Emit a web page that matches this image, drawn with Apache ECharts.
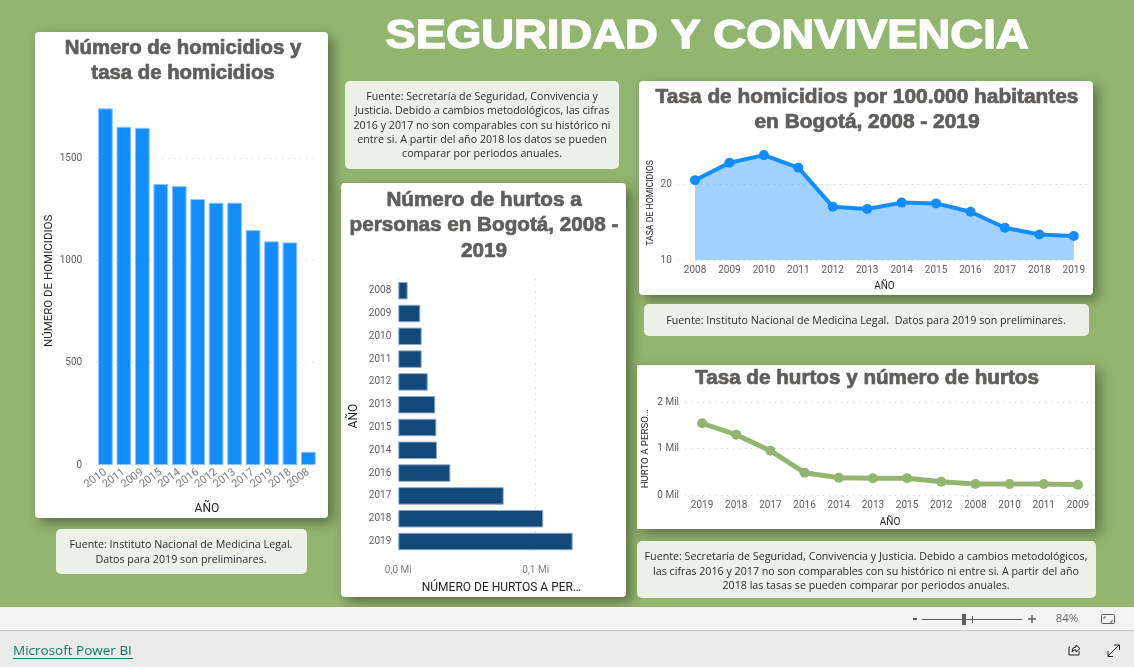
<!DOCTYPE html>
<html><head><meta charset="utf-8">
<style>html,body{margin:0;padding:0;background:#92B56F;overflow:hidden}#c{width:1134px;height:667px}</style>
<script src="https://cdn.jsdelivr.net/npm/echarts@6/dist/echarts.min.js"></script>
</head><body><div id="c"></div>
<script>
const homYears = ['2010','2011','2009','2015','2014','2016','2012','2013','2017','2019','2018','2008'];
const homValues = [1743,1653,1648,1373,1363,1300,1282,1282,1148,1093,1088,65];
const hurtoYears = ['2008','2009','2010','2011','2012','2013','2015','2014','2016','2017','2018','2019'];
const hurtoValues = [0.0068,0.016,0.017,0.017,0.0214,0.0269,0.0277,0.0282,0.0379,0.0767,0.1055,0.1269];
const tasaHomYears = ['2008','2009','2010','2011','2012','2013','2014','2015','2016','2017','2018','2019'];
const tasaHomValues = [20.5,22.8,23.8,22.15,17.0,16.7,17.55,17.45,16.35,14.25,13.35,13.15];
const tasaHurtoYears = ['2019','2018','2017','2016','2014','2013','2015','2012','2008','2010','2011','2009'];
const tasaHurtoValues = [1.548,1.30,0.956,0.48,0.374,0.36,0.36,0.287,0.237,0.237,0.237,0.222];

const BODY = 'Roboto, "Noto Sans", sans-serif';
const NOTE = '"Open Sans", "Noto Sans", sans-serif';
const HEAD = '"Liberation Sans", Arial, sans-serif';
const LABEL = '#605E5C', NAME = '#252423', GRID = '#CFCFCF';

function panel(x, y, w, h, r) {
  return {type:'rect', z:1, shape:{x, y, width:w, height:h, r},
    style:{fill:'#fff', shadowBlur:12, shadowOffsetX:5, shadowOffsetY:5, shadowColor:'rgba(0,0,0,0.38)'}};
}
function noteBox(x, y, w, h) {
  return {type:'rect', z:2, shape:{x, y, width:w, height:h, r:5}, style:{fill:'#EDF2E8'}};
}
function text(t, x, y, font, fill, lh) {
  return {type:'text', z:5, x, y, style:{text:t, font, fill, align:'center', verticalAlign:'middle', lineHeight:lh}};
}
function heading(t, x, y, size, lh, sx) {
  return {type:'text', z:5, x, y, scaleX:sx, style:{text:t, font:'bold '+size+'px '+HEAD, fill:'#605E5C', stroke:'#605E5C', lineWidth:0.7, align:'center', verticalAlign:'middle', lineHeight:lh}};
}
function note(t, x, y) { return text(t, x, y, '10.7px '+NOTE, '#2B2B2B', 14.2); }
function line(x1, y1, x2, y2, stroke, w) {
  return {type:'line', z:6, shape:{x1, y1, x2, y2}, style:{stroke, lineWidth:w||1}};
}
function plain(points, stroke) {
  return {type:'polyline', z:6, shape:{points}, style:{fill:'none', stroke, lineWidth:1}};
}
const dotted = {color:GRID, type:[1,5], width:1};
const valueCommon = {
  z:4, axisLine:{show:false}, axisTick:{show:false},
  splitLine:{show:true, showMaxLine:false, lineStyle:dotted},
};
const catCommon = {
  z:4, type:'category', axisLine:{show:false}, axisTick:{show:false}, splitLine:{show:false},
};
function lab(size, extra) { return Object.assign({color:LABEL, fontFamily:BODY, fontSize:size, showMaxLabel:false}, extra||{}); }
function nameStyle(size) { return {color:NAME, fontFamily:BODY, fontSize:size}; }
const NUDGE = [2,0,0,0];

const chart = echarts.init(document.getElementById('c'), null, {renderer:'canvas'});
chart.setOption({
  animation:false,
  backgroundColor:'#92B56F',
  graphic:{elements:[
    panel(35,32,293,486,4), panel(341,183,285,414,4), panel(639,81,454,214,4), panel(637,365,458,164,0),
    noteBox(56,529,251,45), noteBox(345,81,274,88), noteBox(644,304,445,32), noteBox(637,541,459,57),
    {type:'text', z:5, x:707, y:37, scaleX:1.107, style:{text:'SEGURIDAD Y CONVIVENCIA', font:'bold 41px '+HEAD, fill:'#FFFFFF', stroke:'#FFFFFF', lineWidth:1.4, align:'center', verticalAlign:'middle'}},
    heading('Número de homicidios y\ntasa de homicidios',183,61,19.5,25,1.044),
    heading('Número de hurtos a\npersonas en Bogotá, 2008 -\n2019',484,226,19.5,25.5,1.06),
    heading('Tasa de homicidios por 100.000 habitantes\nen Bogotá, 2008 - 2019',867,110.5,19.5,25,1.07),
    heading('Tasa de hurtos y número de hurtos',867,379,19.5,25,1.059),
    note('Fuente: Instituto Nacional de Medicina Legal.\nDatos para 2019 son preliminares.',181,552.5),
    note('Fuente: Secretaría de Seguridad, Convivencia y\nJusticia. Debido a cambios metodológicos, las cifras\n2016 y 2017 no son comparables con su histórico ni\nentre si. A partir del año 2018 los datos se pueden\ncomparar por periodos anuales.',482,125.5),
    note('Fuente: Instituto Nacional de Medicina Legal.  Datos para 2019 son preliminares.',866,320.5),
    note('Fuente: Secretaría de Seguridad, Convivencia y Justicia. Debido a cambios metodológicos,\nlas cifras 2016 y 2017 no son comparables con su histórico ni entre si. A partir del año\n2018 las tasas se pueden comparar por periodos anuales.',866,571.5),
    {type:'rect', z:3, shape:{x:0,y:607,width:1134,height:23}, style:{fill:'#F3F3F3'}},
    {type:'rect', z:3, shape:{x:0,y:630,width:1134,height:37}, style:{fill:'#EAEAEA'}},
    {type:'rect', z:3, shape:{x:0,y:630,width:1134,height:1}, style:{fill:'#C8C8C8'}},
    {type:'text', z:5, x:13, y:651, style:{text:'Microsoft Power BI', font:'13.5px '+NOTE, fill:'#117865', align:'left', verticalAlign:'middle'}},
    line(13,658.5,133,658.5,'#117865',1),
    line(913,619,917,619,'#555',2),
    line(922,619.5,1022,619.5,'#605E5C',1),
    {type:'rect', z:6, shape:{x:962,y:614,width:4,height:11}, style:{fill:'#605E5C'}},
    line(972.5,616,972.5,623,'#605E5C',1),
    line(1028,619,1036,619,'#555',1.4),
    line(1032,615,1032,623,'#555',1.4),
    text('84%',1067,619,'11.5px '+NOTE,'#666666'),
    {type:'rect', z:6, shape:{x:1101.5,y:614.5,width:13,height:9,r:1}, style:{fill:'none',stroke:'#605E5C',lineWidth:1}},
    plain([[1104,619],[1104,617],[1106,617]],'#605E5C'),
    plain([[1110,622],[1112,622],[1112,620]],'#605E5C'),
    plain([[1070,647],[1069,647],[1069,655],[1079,655],[1079,651]],'#222'),
    plain([[1072,652],[1073,648],[1076,647],[1076,645],[1080,648.5],[1076,652],[1076,650],[1074,650],[1072,652]],'#222'),
    line(1108,656,1119,645,'#222',1),
    plain([[1114,645],[1119.5,645],[1119.5,650]],'#222'),
    plain([[1108,651],[1108,656.5],[1113,656.5]],'#222'),
  ]},
  grid:[
    {left:96.2, top:96.7, width:221.4, height:368.3},
    {left:398.3, top:279.3, width:206.1, height:273.6},
    {left:677.8, top:146, width:413.2, height:114},
    {left:685, top:402.3, width:410, height:92.7},
  ],
  xAxis:[
    Object.assign({}, catCommon, {gridIndex:0, data:homYears, name:'AÑO', nameLocation:'middle', nameGap:38, nameTextStyle:nameStyle(12),
      axisLabel:lab(11,{interval:0, rotate:37, margin:6, showMaxLabel:true, color:'#7F7F7F'})}),
    Object.assign({}, valueCommon, {gridIndex:1, type:'value', min:0, max:0.15, interval:0.1, name:'NÚMERO DE HURTOS A PER…', nameLocation:'middle', nameGap:29, nameTextStyle:nameStyle(12),
      axisLabel:lab(10,{margin:13, color:'#7F7F7F', formatter:v=>v.toFixed(1).replace('.',',')+' Mi'})}),
    Object.assign({}, catCommon, {gridIndex:2, data:tasaHomYears, name:'AÑO', nameLocation:'middle', nameGap:21, nameTextStyle:nameStyle(10),
      axisLabel:lab(10,{interval:0, margin:5, showMaxLabel:true})}),
    Object.assign({}, catCommon, {gridIndex:3, data:tasaHurtoYears, name:'AÑO', nameLocation:'middle', nameGap:22, nameTextStyle:nameStyle(10),
      axisLabel:lab(10,{interval:0, margin:5, showMaxLabel:true})}),
  ],
  yAxis:[
    Object.assign({}, valueCommon, {gridIndex:0, type:'value', min:0, max:1800, interval:500, name:'NÚMERO DE HOMICIDIOS', nameLocation:'middle', nameGap:41, nameTextStyle:nameStyle(11.5),
      axisLabel:lab(10,{margin:14, padding:NUDGE, formatter:v=>String(v)})}),
    Object.assign({}, catCommon, {gridIndex:1, data:hurtoYears, inverse:true, name:'AÑO', nameLocation:'middle', nameGap:38, nameTextStyle:nameStyle(12),
      axisLabel:lab(10,{interval:0, margin:7, padding:NUDGE, showMaxLabel:true})}),
    Object.assign({}, valueCommon, {gridIndex:2, type:'value', min:10, max:25, interval:10, name:'TASA DE HOMICIDIOS', nameLocation:'middle', nameGap:22, nameTextStyle:nameStyle(8.7),
      axisLabel:lab(10,{margin:6, padding:NUDGE})}),
    Object.assign({}, valueCommon, {gridIndex:3, type:'value', min:0, max:2, interval:1, name:'HURTO A PERSO...', nameLocation:'middle', nameGap:34, nameTextStyle:nameStyle(9.7),
      splitLine:{show:true, lineStyle:dotted},
      axisLabel:lab(10,{margin:6, padding:NUDGE, showMaxLabel:true, formatter:v=>v+' Mil'})}),
  ],
  series:[
    {type:'bar', xAxisIndex:0, yAxisIndex:0, data:homValues, barWidth:14.7, z:5,
      itemStyle:{color:'#118DFF', borderColor:'#8CC6FF', borderWidth:1}},
    {type:'bar', xAxisIndex:1, yAxisIndex:1, data:hurtoValues, barWidth:17.5, z:5,
      itemStyle:{color:'#12497B', borderColor:'#8FA9C4', borderWidth:1}},
    {type:'line', xAxisIndex:2, yAxisIndex:2, data:tasaHomValues, symbol:'circle', symbolSize:10, z:5,
      lineStyle:{color:'#118DFF', width:4}, itemStyle:{color:'#118DFF'}, areaStyle:{color:'#118DFF', opacity:0.4}},
    {type:'line', xAxisIndex:3, yAxisIndex:3, data:tasaHurtoValues, symbol:'circle', symbolSize:10, z:5,
      lineStyle:{color:'#92B56F', width:5}, itemStyle:{color:'#92B56F'}},
  ],
});
</script></body></html>
